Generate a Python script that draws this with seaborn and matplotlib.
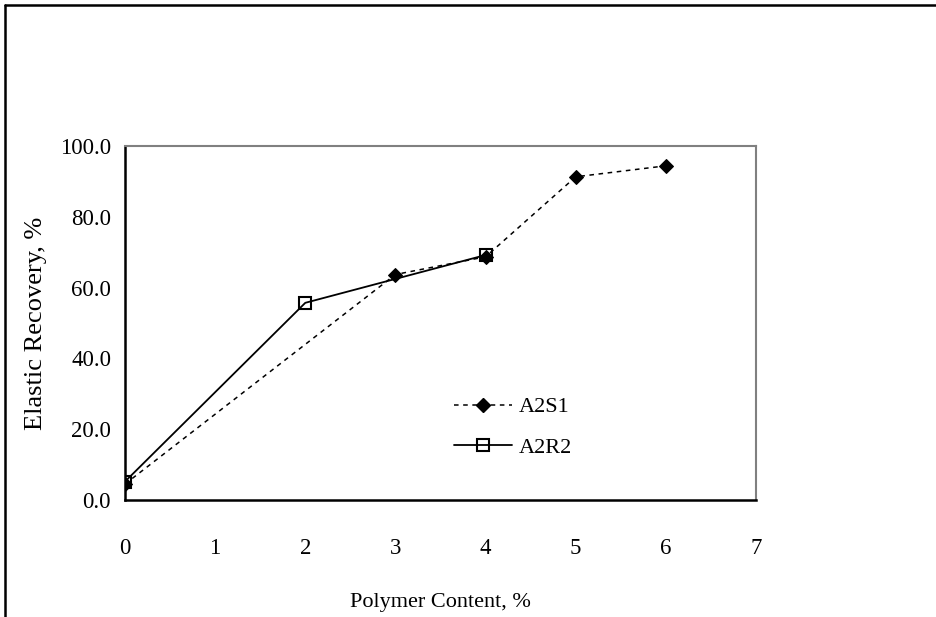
import matplotlib
matplotlib.use("Agg")
import matplotlib.pyplot as plt
import seaborn as sns
import pandas as pd
from matplotlib.lines import Line2D

# Data
a2s1_x = [0, 3, 4, 5, 6]
a2s1_y = [4.5, 63.7, 68.7, 91.3, 94.4]
a2r2_x = [0, 2, 4]
a2r2_y = [5.2, 55.7, 69.2]
series_names = ["A2S1", "A2R2"]
x_ticks = [0, 1, 2, 3, 4, 5, 6, 7]
y_ticks = [0, 20, 40, 60, 80, 100]
x_label = "Polymer Content, %"
y_label = "Elastic Recovery, %"

sns.set_theme(style="white")
plt.rcParams['font.family'] = ['Liberation Serif', 'DejaVu Serif']

W, H = 937, 617
fig = plt.figure(figsize=(W / 100, H / 100), dpi=100)
ax = fig.add_axes([125 / W, 1 - 500 / H, (756 - 125) / W, (500 - 146) / H])

df1 = pd.DataFrame({"x": a2s1_x, "y": a2s1_y})
df2 = pd.DataFrame({"x": a2r2_x, "y": a2r2_y})

sns.lineplot(data=df1, x="x", y="y", ax=ax, color="black", linewidth=1.1,
             linestyle=(0, (3, 3)), marker="D", markersize=7,
             markerfacecolor="black", markeredgecolor="black")
sns.lineplot(data=df2, x="x", y="y", ax=ax, color="black", linewidth=1.3,
             linestyle="-", marker="s", markersize=8.5,
             markerfacecolor="none", markeredgecolor="black", markeredgewidth=1.5)

ax.set_xlim(0, 7)
ax.set_ylim(0, 100)
ax.set_xticks(x_ticks)
ax.set_xticklabels([str(v) for v in x_ticks])
ax.set_yticks(y_ticks)
ax.set_yticklabels([f"{v:.1f}" for v in y_ticks])
ax.tick_params(axis="both", direction="out", length=7, width=1.5, color="black",
               labelsize=16.5, labelcolor="black")
ax.tick_params(axis="x", pad=20)
ax.tick_params(axis="y", pad=3)
for s in ["left", "bottom"]:
    ax.spines[s].set_color("black")
    ax.spines[s].set_linewidth(1.8)
for s in ["top", "right"]:
    ax.spines[s].set_color("#808080")
    ax.spines[s].set_linewidth(1.5)

ax.set_xlabel(x_label, fontsize=16, color="black", labelpad=25)
ax.set_ylabel(y_label, fontsize=19, color="black", labelpad=9)

handles = [
    Line2D([], [], color="black", linewidth=1.1, linestyle=(0, (3, 3)), marker="D",
           markersize=7, markerfacecolor="black", markeredgecolor="black"),
    Line2D([], [], color="black", linewidth=1.3, linestyle="-", marker="s",
           markersize=8, markerfacecolor="none", markeredgecolor="black",
           markeredgewidth=1.5),
]
leg = ax.legend(handles, series_names, loc="center left",
                bbox_to_anchor=(454 / W, 1 - 427.5 / H), bbox_transform=fig.transFigure,
                frameon=False, fontsize=16, handlelength=2.6, handletextpad=0.3,
                labelspacing=0.9, borderpad=0, borderaxespad=0)
for t in leg.get_texts():
    t.set_color("black")

# outer border (clipped at right and bottom)
fig.add_artist(Line2D([5 / W, 5 / W], [1 - 5 / H, 0], transform=fig.transFigure,
                      color="black", linewidth=1.8))
fig.add_artist(Line2D([5 / W, 1], [1 - 5 / H, 1 - 5 / H], transform=fig.transFigure,
                      color="black", linewidth=1.8))

fig.savefig("out.png", dpi=100)
